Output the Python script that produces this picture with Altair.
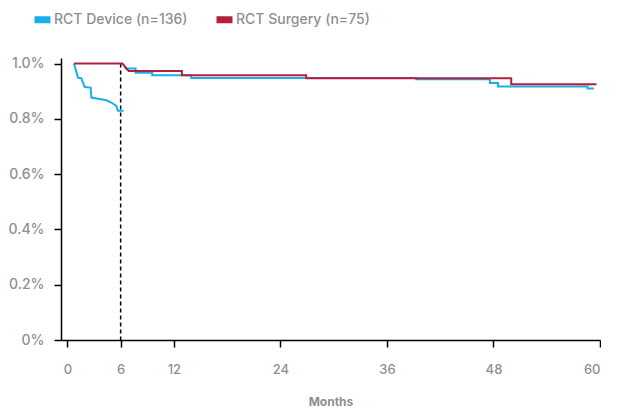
import altair as alt
import pandas as pd

# ---- data ----
SERIES = ["RCT Device (n=136)", "RCT Surgery (n=75)"]
COLORS = ["#1AAFEA", "#B51F3F"]

DEVICE_SEG1_MONTHS = [0.74, 1.19, 1.57, 1.95, 2.62, 2.70, 4.39, 4.95, 5.51, 5.69, 6.33]
DEVICE_SEG1_VALUES = [1.0, 0.949, 0.947, 0.915, 0.913, 0.877, 0.867, 0.859, 0.847, 0.829, 0.829]

DEVICE_SEG2_MONTHS = [6.44, 7.68, 7.68, 9.56, 9.56, 13.95, 13.95, 39.3, 39.3, 47.6, 47.6, 48.5, 48.5, 58.6, 58.6, 59.3]
DEVICE_SEG2_VALUES = [0.982, 0.982, 0.967, 0.967, 0.958, 0.958, 0.948, 0.948, 0.943, 0.943, 0.930, 0.930, 0.917, 0.917, 0.910, 0.910]

SURGERY_MONTHS = [0.74, 6.2, 6.9, 12.9, 12.9, 26.9, 26.9, 50.0, 50.0, 59.6]
SURGERY_VALUES = [1.0, 1.0, 0.973, 0.973, 0.958, 0.958, 0.947, 0.947, 0.925, 0.925]

REF_MONTH = [6]
REF_TOP = [1.0]
REF_BOTTOM = [0.0]

X_TICKS = [0, 6, 12, 24, 36, 48, 60]
Y_TICKS = [0, 0.2, 0.4, 0.6, 0.8, 1.0]

GRAY = "#8C9096"
FONT = "Inter"


def seg_frame(months, values, series, seg):
    return pd.DataFrame({
        "month": months,
        "value": values,
        "series": series,
        "seg": seg,
        "idx": list(range(len(months))),
    })


df_dev = pd.concat([
    seg_frame(DEVICE_SEG1_MONTHS, DEVICE_SEG1_VALUES, SERIES[0], "a"),
    seg_frame(DEVICE_SEG2_MONTHS, DEVICE_SEG2_VALUES, SERIES[0], "b"),
], ignore_index=True)
df_sur = seg_frame(SURGERY_MONTHS, SURGERY_VALUES, SERIES[1], "a")
df_ref = pd.DataFrame({"month": REF_MONTH, "top": REF_TOP, "bottom": REF_BOTTOM})

x_scale = alt.Scale(domain=[-0.72, 60.0], nice=False, zero=False)
y_scale = alt.Scale(domain=[0, 1.02], nice=False)

x_enc = alt.X(
    "month:Q", scale=x_scale,
    axis=alt.Axis(values=X_TICKS, title="Months", labelFontSize=13, labelPadding=16,
                  titleFontSize=12, titleFontWeight="bold", titlePadding=20),
)
y_enc = alt.Y(
    "value:Q", scale=y_scale,
    axis=alt.Axis(values=Y_TICKS, title=None, labelFontSize=14, labelPadding=10,
                  labelExpr="datum.value == 0 ? '0%' : format(datum.value, '.1f') + '%'"),
)
color_enc = alt.Color(
    "series:N",
    scale=alt.Scale(domain=SERIES, range=COLORS),
    legend=alt.Legend(
        title=None, orient="none", legendX=-30, legendY=-50, direction="horizontal",
        symbolType="M-1,0L1,0", symbolSize=256, symbolStrokeWidth=7,
        labelFontSize=14, labelFontWeight=500, labelColor=GRAY, labelFont=FONT,
        columnPadding=14, labelOffset=0,
    ),
)

rule = alt.Chart(df_ref).mark_rule(color="black", strokeDash=[4, 3], strokeWidth=1.5).encode(
    x=alt.X("month:Q", scale=x_scale), y=alt.Y("top:Q", scale=y_scale), y2="bottom:Q"
)

dev = alt.Chart(df_dev).mark_line(strokeWidth=2).encode(
    x=x_enc, y=y_enc, color=color_enc, detail="seg:N", order="idx:Q"
)
sur = alt.Chart(df_sur).mark_line(strokeWidth=2).encode(
    x=x_enc, y=y_enc, color=color_enc, detail="seg:N", order="idx:Q"
)

chart = alt.layer(rule, dev, sur).properties(
    width=539, height=282,
    padding={"left": 0, "top": 0, "right": 0, "bottom": 0},
).configure_view(stroke=None).configure_axis(
    grid=False, domainColor="black", domainWidth=1.5, tickColor="black", tickWidth=1.5,
    tickSize=7, labelColor=GRAY, labelFont=FONT, labelFontWeight=500,
    titleColor=GRAY, titleFont=FONT,
)

chart.save("out.html", embed_options={"renderer": "svg", "actions": False})
